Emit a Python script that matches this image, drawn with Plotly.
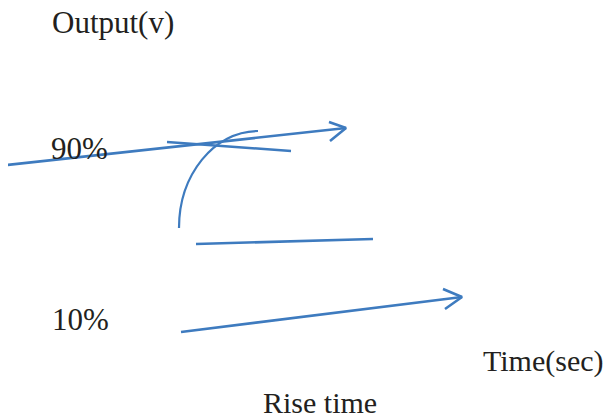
import plotly.graph_objects as go

# Diagram geometry (in picture units: x to the right, y downward)
upper_arrow_x = [7, 346]
upper_arrow_y = [165, 128]
upper_head_x = [329, 346, 330]
upper_head_y = [122, 128, 141]

cross_line_x = [167, 291]
cross_line_y = [142, 151]

lower_flat_x = [196, 373]
lower_flat_y = [244, 239]

bottom_arrow_x = [181, 462]
bottom_arrow_y = [332, 297]
bottom_head_x = [443, 462, 445]
bottom_head_y = [289, 297, 309]

# rise curve: start, control1, control2, end
curve_x = [179, 179, 214, 258]
curve_y = [228, 175, 131, 131]

label_texts = ["Output(v)", "90%", "10%", "Time(sec)", "Rise time"]
label_x = [51, 50, 51, 482, 262]
label_y = [22, 148, 319, 361, 402]
label_size = [31, 31, 31, 30, 30]

LINE = "#3E7BBF"
TEXT = "#231F20"

fig = go.Figure()
for xs, ys in [(upper_arrow_x, upper_arrow_y), (upper_head_x, upper_head_y),
               (cross_line_x, cross_line_y), (lower_flat_x, lower_flat_y),
               (bottom_arrow_x, bottom_arrow_y), (bottom_head_x, bottom_head_y)]:
    fig.add_trace(go.Scatter(x=xs, y=ys, mode="lines",
                             line=dict(color=LINE, width=2.6),
                             hoverinfo="skip", showlegend=False))

path = "M {},{} C {},{} {},{} {},{}".format(
    curve_x[0], curve_y[0], curve_x[1], curve_y[1],
    curve_x[2], curve_y[2], curve_x[3], curve_y[3])
fig.add_shape(type="path", path=path, xref="x", yref="y",
              line=dict(color=LINE, width=2.2))

for t, x, y, s in zip(label_texts, label_x, label_y, label_size):
    fig.add_annotation(x=x, y=y, text=t, showarrow=False, xanchor="left",
                       yanchor="middle", xref="x", yref="y", borderpad=0,
                       font=dict(family="Liberation Serif", size=s, color=TEXT))

# the page adds an 8px margin, so the figure covers picture pixels 8..613 / 8..418
fig.update_layout(width=605, height=410, margin=dict(l=0, r=0, t=0, b=0),
                  plot_bgcolor="white", paper_bgcolor="white",
                  xaxis=dict(range=[8, 613], visible=False, fixedrange=True),
                  yaxis=dict(range=[418, 8], visible=False, fixedrange=True))
fig.write_html("out.html")
